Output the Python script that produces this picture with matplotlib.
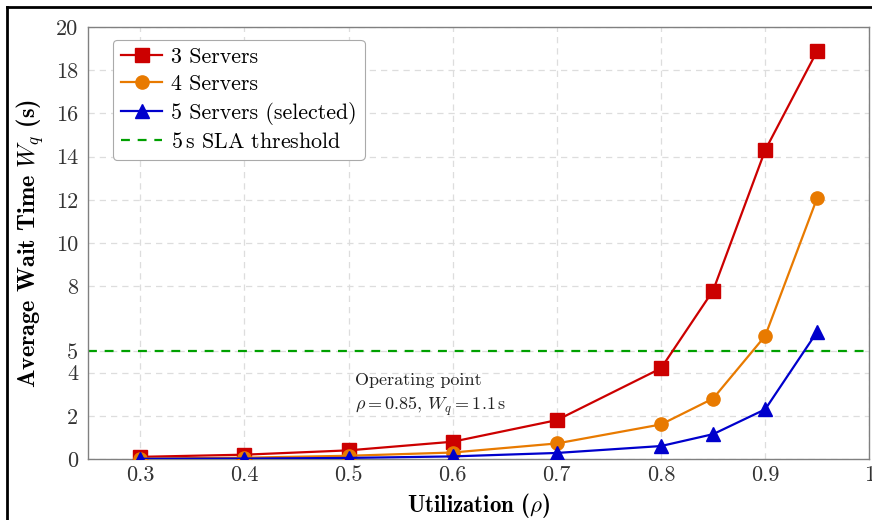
import matplotlib
matplotlib.use("Agg")
import matplotlib.pyplot as plt
from matplotlib.lines import Line2D

rho = [0.3, 0.4, 0.5, 0.6, 0.7, 0.8, 0.85, 0.9, 0.95]
wq_3 = [0.1, 0.2, 0.4, 0.8, 1.8, 4.2, 7.8, 14.3, 18.9]
wq_4 = [0.02, 0.06, 0.15, 0.3, 0.72, 1.6, 2.8, 5.7, 12.1]
wq_5 = [0.01, 0.02, 0.05, 0.12, 0.28, 0.6, 1.15, 2.3, 5.9]
sla = 5
x_ticks = [0.3, 0.4, 0.5, 0.6, 0.7, 0.8, 0.9, 1.0]
x_tick_labels = ["0.3", "0.4", "0.5", "0.6", "0.7", "0.8", "0.9", "1"]
y_ticks = [0, 2, 4, 5, 8, 10, 12, 14, 16, 18, 20]

plt.rcParams['font.family'] = ['cmr10', 'DejaVu Serif']
plt.rcParams['mathtext.fontset'] = 'cm'
plt.rcParams['axes.formatter.use_mathtext'] = True

fig = plt.figure(figsize=(8.72, 5.2), dpi=100)
ax = fig.add_axes([0.101, 0.1173, 0.896, 0.8308])

red = '#cc0000'
orange = '#e87a00'
blue = '#0000cc'
green = '#00a000'

ax.plot(rho, wq_3, color=red, lw=1.6, marker='s', ms=9.5, label='3 Servers', zorder=3)
ax.plot(rho, wq_4, color=orange, lw=1.6, marker='o', ms=9.5, label='4 Servers', zorder=3)
ax.plot(rho, wq_5, color=blue, lw=1.6, marker='^', ms=10, label='5 Servers (selected)', zorder=4)
ax.axhline(sla, color=green, lw=1.6, ls=(0, (4, 3.5)), label=r'5$\,$s SLA threshold', zorder=2)

ax.set_xlim(0.25, 1.0)
ax.set_ylim(0, 20)
ax.set_xticks(x_ticks)
ax.set_xticklabels(x_tick_labels)
ax.set_yticks(y_ticks)
ax.set_yticklabels([str(v) for v in y_ticks])
ax.tick_params(axis='both', labelsize=16, length=0, colors='#333333')
ax.tick_params(axis='x', pad=5)
ax.tick_params(axis='y', pad=7)
ax.grid(True, color='#dddddd', ls=(0, (5, 4)), lw=0.9)
for s in ax.spines.values():
    s.set_color('#808080')
    s.set_linewidth(1.0)

ax.set_xlabel(r'Utilization ($\rho$)', family='cmb10', fontsize=16.5, labelpad=4)
ax.set_ylabel(r'Average Wait Time $W_q$ (s)', family='cmb10', fontsize=17.5, labelpad=7)

ax.text(0.506, 2.95, 'Operating point\n' + r'$\rho = 0.85$, $W_q = 1.1\,\mathrm{s}$',
        fontsize=13, ha='left', va='center', linespacing=1.45, color='#222222')

leg = ax.legend(loc='upper left', bbox_to_anchor=(0.032, 0.97), borderaxespad=0,
                fontsize=15.8, frameon=True, fancybox=True, edgecolor='#aaaaaa',
                framealpha=1, handlelength=1.9, handletextpad=0.4, borderpad=0.35,
                labelspacing=0.34)
leg.get_frame().set_linewidth(0.8)

fig.add_artist(Line2D([0.008, 0.008], [0, 0.987], transform=fig.transFigure, color='black', lw=2))
fig.add_artist(Line2D([0.008, 1.0], [0.987, 0.987], transform=fig.transFigure, color='black', lw=2))

fig.savefig('out.png', dpi=100)
